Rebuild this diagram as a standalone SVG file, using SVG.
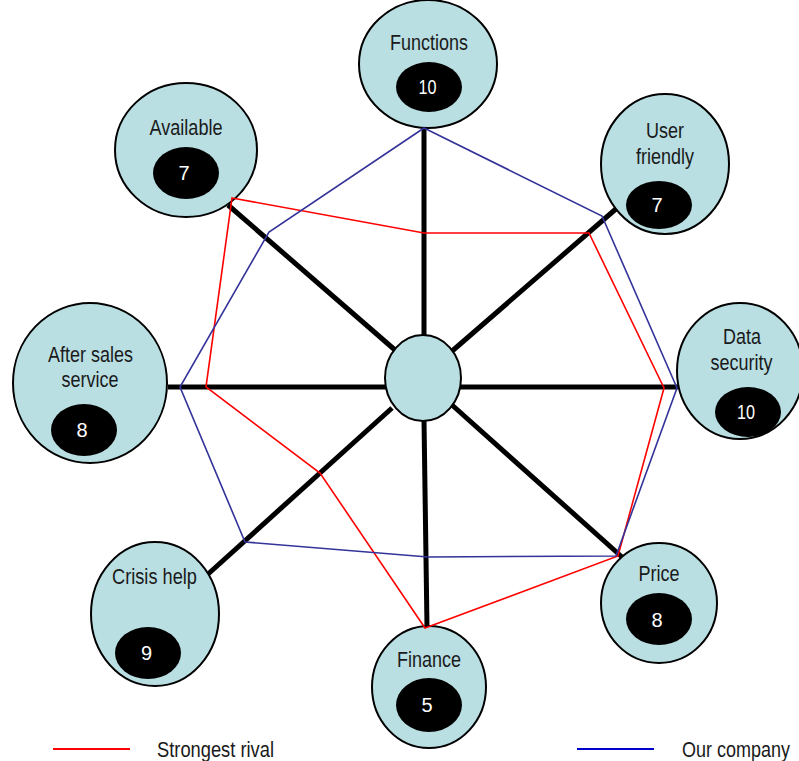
<svg xmlns="http://www.w3.org/2000/svg" width="799" height="761" viewBox="0 0 799 761">
  <style>
    .spoke { stroke: #000; stroke-width: 5; fill: none; }
    .node { fill: #b9dfe3; stroke: #000; stroke-width: 2; }
    .badge { fill: #000; }
    .label { font-family: "Liberation Sans Narrow", "Arial Narrow", "Liberation Sans", Arial, sans-serif; font-size: 22px; fill: #1a1a1a; text-anchor: middle; }
    .score { font-family: "Liberation Sans Narrow", "Arial Narrow", "Liberation Sans", Arial, sans-serif; font-size: 20px; fill: #fff; text-anchor: middle; }
    .legend { font-family: "Liberation Sans Narrow", "Arial Narrow", "Liberation Sans", Arial, sans-serif; font-size: 22px; fill: #1a1a1a; }
    .rival { fill: none; stroke: #ff0000; stroke-width: 1.6; stroke-linejoin: miter; }
    .ours { fill: none; stroke: #333399; stroke-width: 1.6; stroke-linejoin: miter; }
  </style>

  <!-- spokes from the hub to each criterion -->
  <g id="connectors">
    <line class="spoke" x1="424" y1="336" x2="424" y2="128"/>
    <line class="spoke" x1="395" y1="350" x2="228" y2="205"/>
    <line class="spoke" x1="451" y1="352" x2="617" y2="208"/>
    <line class="spoke" x1="460" y1="387" x2="678" y2="387"/>
    <line class="spoke" x1="386" y1="387" x2="168" y2="387"/>
    <line class="spoke" x1="452" y1="405" x2="622" y2="557"/>
    <line class="spoke" x1="424" y1="420" x2="427" y2="627"/>
    <line class="spoke" x1="392" y1="408" x2="207" y2="575"/>
  </g>

  <g id="hub">
    <ellipse class="node" cx="423" cy="378" rx="38" ry="43"/>
  </g>

  <g id="node-functions">
    <ellipse class="node" cx="428" cy="64" rx="69" ry="64"/>
    <text class="label" x="429" y="50" textLength="78" lengthAdjust="spacingAndGlyphs">Functions</text>
    <ellipse class="badge" cx="429" cy="87" rx="33" ry="25"/>
    <text class="score" x="427.5" y="94" textLength="18" lengthAdjust="spacingAndGlyphs">10</text>
  </g>

  <g id="node-available">
    <ellipse class="node" cx="186" cy="150" rx="71" ry="67"/>
    <text class="label" x="186" y="135" textLength="73" lengthAdjust="spacingAndGlyphs">Available</text>
    <ellipse class="badge" cx="186" cy="173" rx="33" ry="26"/>
    <text class="score" x="184" y="180">7</text>
  </g>

  <g id="node-user-friendly">
    <ellipse class="node" cx="665" cy="164" rx="64" ry="70"/>
    <text class="label" x="665" y="138" textLength="38" lengthAdjust="spacingAndGlyphs">User</text>
    <text class="label" x="665" y="164" textLength="58" lengthAdjust="spacingAndGlyphs">friendly</text>
    <ellipse class="badge" cx="659" cy="205" rx="33" ry="24"/>
    <text class="score" x="657" y="212">7</text>
  </g>

  <g id="node-after-sales">
    <ellipse class="node" cx="90" cy="383" rx="77" ry="80"/>
    <text class="label" x="90.5" y="362" textLength="85" lengthAdjust="spacingAndGlyphs">After sales</text>
    <text class="label" x="90" y="387" textLength="57" lengthAdjust="spacingAndGlyphs">service</text>
    <ellipse class="badge" cx="84" cy="430" rx="33" ry="26"/>
    <text class="score" x="82" y="437">8</text>
  </g>

  <g id="node-data-security">
    <ellipse class="node" cx="740" cy="371" rx="63" ry="68"/>
    <text class="label" x="742" y="344" textLength="38" lengthAdjust="spacingAndGlyphs">Data</text>
    <text class="label" x="741.5" y="370" textLength="62" lengthAdjust="spacingAndGlyphs">security</text>
    <ellipse class="badge" cx="748" cy="412" rx="33" ry="25"/>
    <text class="score" x="746" y="419" textLength="18" lengthAdjust="spacingAndGlyphs">10</text>
  </g>

  <g id="node-price">
    <ellipse class="node" cx="659" cy="603" rx="58" ry="60"/>
    <text class="label" x="659" y="581" textLength="41" lengthAdjust="spacingAndGlyphs">Price</text>
    <ellipse class="badge" cx="659" cy="619" rx="33" ry="26"/>
    <text class="score" x="657" y="627">8</text>
  </g>

  <g id="node-finance">
    <ellipse class="node" cx="429" cy="687" rx="57" ry="61"/>
    <text class="label" x="429" y="667" textLength="64" lengthAdjust="spacingAndGlyphs">Finance</text>
    <ellipse class="badge" cx="429" cy="705" rx="33" ry="27"/>
    <text class="score" x="427" y="712">5</text>
  </g>

  <g id="node-crisis-help">
    <ellipse class="node" cx="155" cy="614" rx="64" ry="72"/>
    <text class="label" x="154.5" y="584" textLength="85" lengthAdjust="spacingAndGlyphs">Crisis help</text>
    <ellipse class="badge" cx="148" cy="653" rx="33" ry="26"/>
    <text class="score" x="146.5" y="660">9</text>
  </g>

  <!-- score profiles -->
  <g id="profiles">
    <polygon id="profile-rival" class="rival" points="232,198 424,233 589,233 664,388 618,556 425,628 320,473 206,387"/>
    <polygon id="profile-ours" class="ours" points="424,128 602,216 677,388 616,556 428,557 245,542 180,387 269,232"/>
  </g>

  <!-- legend -->
  <g id="legend">
    <line x1="53" y1="749" x2="130" y2="749" stroke="#ff0000" stroke-width="2"/>
    <text class="legend" x="157" y="757" textLength="117" lengthAdjust="spacingAndGlyphs">Strongest rival</text>
    <line x1="577" y1="749" x2="654" y2="749" stroke="#0000cc" stroke-width="2"/>
    <text class="legend" x="682" y="757" textLength="108" lengthAdjust="spacingAndGlyphs">Our company</text>
  </g>
</svg>
